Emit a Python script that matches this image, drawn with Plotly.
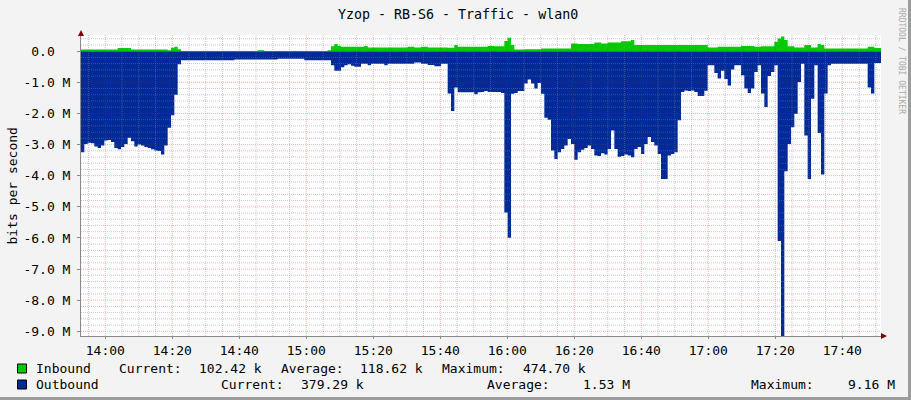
import datetime as dt
import plotly.graph_objects as go

# ---------------- data (values in M bits/s, one sample per step) ----------------
title_text = "Yzop - RB-S6 - Traffic - wlan0"
series_names = ["Inbound", "Outbound"]
series_colors = ["#00CC00", "#002A97"]

# inbound, 4 chunks of 60 samples
inbound_a = [0.055] * 11 + [0.10] * 4 + [0.055] * 11 + [0.03, 0.11, 0.14, 0.06] + [0.005] * 23 + [0.03, 0.03] + [0.005] * 5
inbound_b = [0.005] * 14 + [0.03, 0.16, 0.23, 0.17] + [0.14] * 7 + [0.17] + [0.12] * 12 + [0.14, 0.14, 0.12, 0.12, 0.14, 0.14] + [0.12] * 6 + [0.11, 0.11, 0.20] + [0.14] * 7
inbound_c = [0.14, 0.14, 0.17, 0.17, 0.16, 0.16, 0.16, 0.33, 0.43, 0.20] + [0.055] * 3 + [0.065] * 5 + [0.09] * 9 + [0.25, 0.25] + [0.23] * 5 + [0.28, 0.28, 0.25, 0.25] + [0.28] * 4 + [0.32] * 3 + [0.36] + [0.20] * 14
inbound_d = [0.20] * 8 + [0.12] * 3 + [0.14] * 7 + [0.17] * 4 + [0.14, 0.14] + [0.16] * 4 + [0.30, 0.41, 0.4747, 0.36, 0.16, 0.16, 0.12, 0.12, 0.12, 0.20, 0.20, 0.12, 0.12, 0.23, 0.20] + [0.09] * 13 + [0.14, 0.14, 0.1024, 0.1024]

# outbound (drawn below zero), 4 chunks of 60 samples
outbound_a = [3.25, 2.98, 2.94, 2.96, 3.06, 3.11, 3.03, 2.87, 2.85, 2.92,
              3.11, 3.15, 3.08, 2.98, 2.78, 2.89, 3.06, 3.00, 3.03, 3.08,
              3.11, 3.15, 3.19, 3.21, 3.32, 3.03, 2.46, 2.06, 1.40, 0.42] + [0.29] * 16 + [0.27] * 13 + [0.24]
outbound_b = [0.24] * 7 + [0.29] * 8 + [0.45, 0.63, 0.63, 0.52, 0.45, 0.42, 0.47, 0.50, 0.50, 0.40,
              0.40, 0.45, 0.40, 0.40, 0.40, 0.40, 0.45] + [0.40] * 8 + [0.36, 0.36, 0.40, 0.40, 0.44, 0.44, 0.48, 0.48, 0.40, 0.40,
              1.36, 1.92, 1.17, 1.32, 1.32, 1.32, 1.32, 1.32, 1.38, 1.32]
outbound_c = [1.31, 1.28, 1.31, 1.31, 1.31, 1.31, 1.34, 5.18, 5.99, 1.37,
              1.34, 1.28, 1.28, 1.04, 0.91, 1.04, 1.20, 1.02, 1.37, 2.14,
              2.20, 3.19, 3.46, 3.25, 3.14, 3.03, 2.82, 2.98, 3.49, 3.25,
              3.17, 3.11, 3.03, 3.14, 3.35, 3.37, 3.28, 3.32, 3.14, 2.55,
              3.14, 3.39, 3.37, 3.32, 3.35, 3.41, 3.14, 3.08, 3.30, 2.98,
              2.76, 2.92, 3.03, 3.30, 4.11, 4.11, 3.35, 3.30, 3.25, 2.22]
outbound_d = [1.31, 1.26, 1.28, 1.26, 1.31, 1.44, 1.44, 1.27, 0.45, 0.45,
              0.70, 0.88, 0.63, 0.89, 1.10, 0.59, 0.45, 0.45, 0.77, 1.20,
              1.34, 1.20, 0.67, 0.45, 1.36, 1.79, 0.80, 0.67, 0.45, 6.10,
              9.16, 3.86, 2.98, 2.44, 2.01, 0.99, 0.40, 2.71, 4.11, 1.53,
              0.45, 2.63, 3.96, 1.36, 0.45, 0.40, 0.40, 0.40, 0.40, 0.40,
              0.40, 0.40, 0.40, 0.40, 0.40, 0.40, 1.17, 1.36, 0.38, 0.379]

y_tick_vals = [0, -1, -2, -3, -4, -5, -6, -7, -8, -9]
y_tick_text = ["0.0\u00a0\u00a0", "-1.0 M", "-2.0 M", "-3.0 M", "-4.0 M", "-5.0 M",
               "-6.0 M", "-7.0 M", "-8.0 M", "-9.0 M"]
x_tick_text = ["14:00", "14:20", "14:40", "15:00", "15:20", "15:40", "16:00",
               "16:20", "16:40", "17:00", "17:20", "17:40"]

legend_rows = [
    ["Inbound", "Current:", "102.42 k", "Average:", "118.62 k", "Maximum:", "474.70 k"],
    ["Outbound", "Current:", "379.29 k", "Average:", "1.53 M", "Maximum:", "9.16 M"],
]

# ---------------- geometry ----------------
W, H = 911, 400
L, R, T, B = 81, 30, 35, 64
PW, PH = W - L - R, H - T - B

t_start = dt.datetime(2024, 1, 1, 13, 52, 45)
span = dt.timedelta(minutes=238.8)
t_end = t_start + span
inbound = inbound_a + inbound_b + inbound_c + inbound_d
outbound = outbound_a + outbound_b + outbound_c + outbound_d
n = len(outbound)
step = span / n
times = [t_start + i * step for i in range(n)] + [t_end]

y_lo, y_hi = -9.15, 0.52

def px(x):
    return (x - L) / PW

def py(y):
    return (H - B - y) / PH

FONT = "DejaVu Sans Mono"

fig = go.Figure()
fig.add_trace(go.Scatter(
    x=times, y=[-v for v in outbound] + [-outbound[-1]], mode="lines", line_shape="hv",
    fill="tozeroy", fillcolor=series_colors[1], line=dict(width=0, color=series_colors[1]),
    name=series_names[1], hoverinfo="skip"))
fig.add_trace(go.Scatter(
    x=times, y=inbound + [inbound[-1]], mode="lines", line_shape="hv",
    fill="tozeroy", fillcolor=series_colors[0], line=dict(width=0, color=series_colors[0]),
    name=series_names[0], hoverinfo="skip"))

shapes = []
minor_col = "rgba(130,130,130,0.45)"
major_col = "rgba(255,0,0,0.32)"
# vertical grid every 5 min, major every 20 min
t0_grid = dt.datetime(2024, 1, 1, 13, 55)
k = 0
while t0_grid + dt.timedelta(minutes=5 * k) < t_end:
    tg = t0_grid + dt.timedelta(minutes=5 * k)
    major = tg.minute % 20 == 0
    shapes.append(dict(type="line", xref="x", yref="paper", x0=tg, x1=tg, y0=0, y1=1,
                       line=dict(color=major_col if major else minor_col, width=1, dash="1px,1px"),
                       layer="above"))
    k += 1
# horizontal grid every 0.2 M, major every 1 M
for j in range(-45, 3):
    yv = j * 0.2
    if yv < y_lo or yv > y_hi:
        continue
    major = j % 5 == 0
    shapes.append(dict(type="line", xref="paper", yref="y", x0=0, x1=1, y0=yv, y1=yv,
                       line=dict(color=major_col if major else minor_col, width=1, dash="1px,1px"),
                       layer="above"))
# axis arrows
shapes.append(dict(type="path", xref="paper", yref="paper",
                   path=f"M {px(78)} {py(36)} L {px(84)} {py(36)} L {px(81)} {py(30)} Z",
                   fillcolor="#7f0000", line=dict(width=0), layer="above"))
shapes.append(dict(type="path", xref="paper", yref="paper",
                   path=f"M {px(881)} {py(333)} L {px(881)} {py(339)} L {px(887)} {py(336)} Z",
                   fillcolor="#7f0000", line=dict(width=0), layer="above"))
# legend swatches
for i, col in enumerate(series_colors):
    y0 = 364 + i * 16
    shapes.append(dict(type="rect", xref="paper", yref="paper",
                       x0=px(17.5), x1=px(26.5), y0=py(y0), y1=py(y0 + 9),
                       fillcolor=col, line=dict(color="black", width=1)))
# frame shading
shapes.append(dict(type="rect", xref="paper", yref="paper", x0=px(0), x1=px(W), y0=py(H - 3), y1=py(H),
                   fillcolor="#9c9c9c", line=dict(width=0)))
shapes.append(dict(type="rect", xref="paper", yref="paper", x0=px(W - 3), x1=px(W), y0=py(0), y1=py(H),
                   fillcolor="#9c9c9c", line=dict(width=0)))

annotations = [
    dict(text=title_text, x=px(458), y=py(14.5), xref="paper", yref="paper", showarrow=False,
         font=dict(family=FONT, size=13.3, color="black"), xanchor="center", yanchor="middle"),
    dict(text="bits per second", x=px(11.5), y=py(186), xref="paper", yref="paper", showarrow=False,
         textangle=-90, font=dict(family=FONT, size=13, color="black"), xanchor="center", yanchor="middle"),
    dict(text="RRDTOOL / TOBI OETIKER", x=px(902), y=py(61), xref="paper", yref="paper", showarrow=False,
         textangle=90, font=dict(family=FONT, size=8, color="#a8a8a8"), xanchor="center", yanchor="middle"),
]
legend_x = [[34, 116.7, 196.7, 279, 358, 440, 520.7],
            [34, 219.3, 299.3, 485, 580.7, 749.3, 845.7]]
legend_y = [368.5, 384]
for r, row in enumerate(legend_rows):
    for c, txt in enumerate(row):
        annotations.append(dict(text=txt, x=px(legend_x[r][c]), y=py(legend_y[r]), xref="paper", yref="paper",
                                showarrow=False, xanchor="left", yanchor="middle",
                                font=dict(family=FONT, size=13, color="black")))

x_tick_vals = [dt.datetime(2024, 1, 1, 14, 0) + dt.timedelta(minutes=20 * i) for i in range(len(x_tick_text))]

fig.update_layout(
    width=W, height=H, autosize=False,
    margin=dict(l=L, r=R, t=T, b=B, pad=0),
    paper_bgcolor="#f3f3f3", plot_bgcolor="white",
    showlegend=False,
    shapes=shapes, annotations=annotations,
    xaxis=dict(type="date", range=[t_start, t_end], tickvals=x_tick_vals, ticktext=x_tick_text,
               showgrid=False, zeroline=False, showline=True, linecolor="#8a8a8a", linewidth=1,
               ticks="outside", ticklen=2, tickcolor="#8a8a8a",
               tickfont=dict(family=FONT, size=13, color="black"), fixedrange=True),
    yaxis=dict(range=[y_lo, y_hi], tickvals=y_tick_vals, ticktext=y_tick_text,
               showgrid=False, zeroline=False, showline=True, linecolor="#8a8a8a", linewidth=1,
               ticks="outside", ticklen=3, tickcolor="#8a8a8a", ticklabelstandoff=4,
               tickfont=dict(family=FONT, size=13, color="black"), fixedrange=True),
)

fig.write_html("out.html", config={"displayModeBar": False},
               post_script="document.body.style.margin='0';document.body.style.padding='0';"
                           "document.body.style.overflow='hidden';")
